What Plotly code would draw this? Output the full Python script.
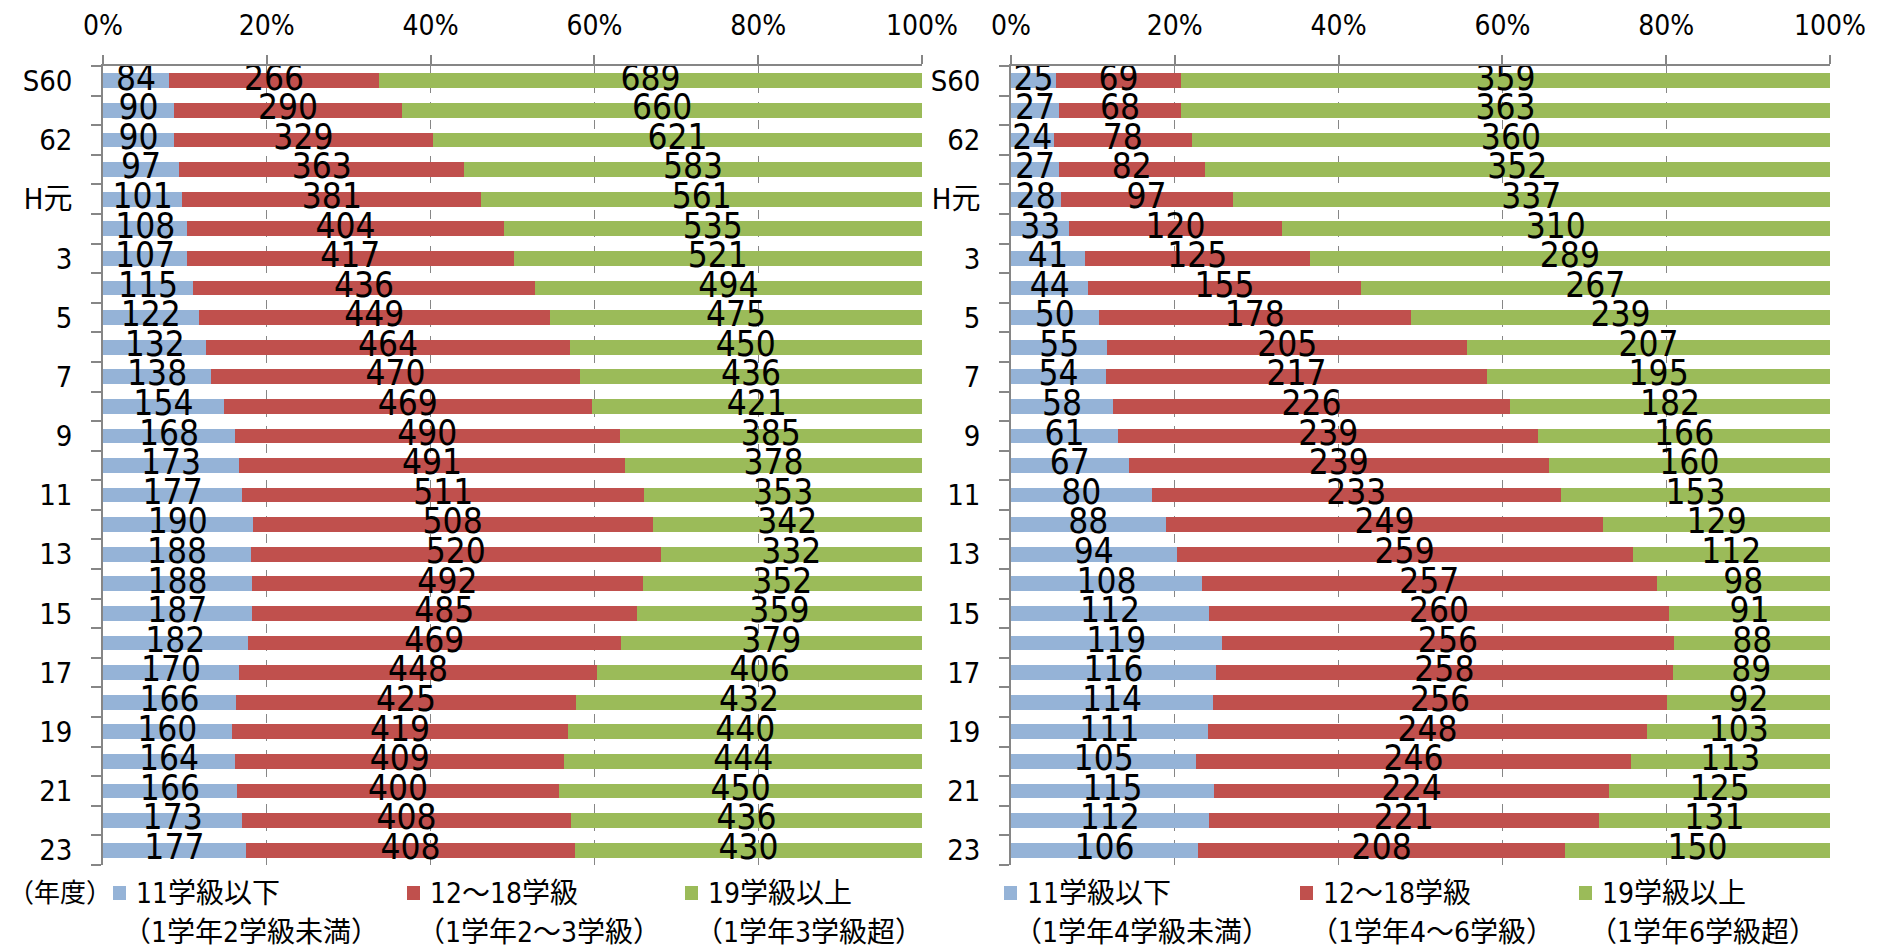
import plotly.graph_objects as go

# Page body has an 8px default margin, so the figure is sized/offset to match the window.
PAGE_OFF = 8
W, H = 1885 - PAGE_OFF, 949 - PAGE_OFF

years = ["S60", "S61", "S62", "S63", "H元", "H2", "H3", "H4", "H5", "H6", "H7", "H8", "H9",
         "H10", "H11", "H12", "H13", "H14", "H15", "H16", "H17", "H18", "H19", "H20", "H21",
         "H22", "H23"]
year_ticktext = ["S60", "", "62", "", "H元", "", "3", "", "5", "", "7", "", "9", "", "11", "",
                 "13", "", "15", "", "17", "", "19", "", "21", "", "23"]
pct_ticks = [0, 20, 40, 60, 80, 100]
pct_ticktext = ["0%", "20%", "40%", "60%", "80%", "100%"]

# Left chart
left_small = [84, 90, 90, 97, 101, 108, 107, 115, 122, 132, 138, 154, 168, 173, 177, 190, 188,
              188, 187, 182, 170, 166, 160, 164, 166, 173, 177]
left_mid = [266, 290, 329, 363, 381, 404, 417, 436, 449, 464, 470, 469, 490, 491, 511, 508, 520,
            492, 485, 469, 448, 425, 419, 409, 400, 408, 408]
left_large = [689, 660, 621, 583, 561, 535, 521, 494, 475, 450, 436, 421, 385, 378, 353, 342, 332,
              352, 359, 379, 406, 432, 440, 444, 450, 436, 430]

# Right chart
right_small = [25, 27, 24, 27, 28, 33, 41, 44, 50, 55, 54, 58, 61, 67, 80, 88, 94, 108, 112, 119,
               116, 114, 111, 105, 115, 112, 106]
right_mid = [69, 68, 78, 82, 97, 120, 125, 155, 178, 205, 217, 226, 239, 239, 233, 249, 259, 257,
             260, 256, 258, 256, 248, 246, 224, 221, 208]
right_large = [359, 363, 360, 352, 337, 310, 289, 267, 239, 207, 195, 182, 166, 160, 153, 129, 112,
               98, 91, 88, 89, 92, 103, 113, 125, 131, 150]

series_names = ["11学級以下", "12～18学級", "19学級以上"]
left_sub = ["（1学年2学級未満）", "（1学年2～3学級）", "（1学年3学級超）"]
right_sub = ["（1学年4学級未満）", "（1学年4～6学級）", "（1学年6学級超）"]
colors = ["#95B3D7", "#C0504D", "#9BBB59"]

NUM_FONT = "DejaVu Sans Condensed, Noto Sans CJK JP, sans-serif"


def px_x(p):
    return (p - PAGE_OFF) / W


def px_y(p):
    return 1 - (p - PAGE_OFF) / H


fig = go.Figure()


def add_panel(series_list, subs, xa, ya):
    totals = [sum(v) for v in zip(*series_list)]
    cum = [0.0] * len(totals)
    for series, name, sub, color in zip(series_list, series_names, subs, colors):
        fig.add_trace(go.Bar(
            y=years, x=series, orientation="h", name=name + sub,
            marker=dict(color=color, line=dict(width=0)),
            xaxis=xa, yaxis=ya, hoverinfo="skip", showlegend=False,
        ))
        # label positions: centre of each normalised segment
        mids = [(c + v / 2) / t * 100 for c, v, t in zip(cum, series, totals)]
        fig.add_trace(go.Scatter(
            y=years, x=mids, mode="text", text=[str(v) for v in series],
            textposition="middle center", showlegend=False, cliponaxis=False,
            textfont=dict(family=NUM_FONT, size=35, color="black"),
            xaxis=xa, yaxis=ya, hoverinfo="skip",
        ))
        cum = [c + v for c, v in zip(cum, series)]


add_panel([left_small, left_mid, left_large], left_sub, "x", "y")
add_panel([right_small, right_mid, right_large], right_sub, "x2", "y2")

ydom = [px_y(865), px_y(66)]

xaxis_common = dict(
    side="top", range=[0, 100], tickmode="array", tickvals=pct_ticks, ticktext=pct_ticktext,
    showgrid=True, gridcolor="#868686", griddash="dash", gridwidth=1,
    showline=True, linecolor="#868686", linewidth=1.5,
    ticks="outside", ticklen=9, tickcolor="#868686", tickwidth=1.5,
    tickfont=dict(family=NUM_FONT, size=28, color="black"),
    ticklabelstandoff=9, zeroline=False, automargin=False, fixedrange=True,
)
yaxis_common = dict(
    type="category", range=[len(years) - 0.5, -0.5], tickmode="array", tickvals=years,
    ticktext=year_ticktext,
    tickson="boundaries", ticks="outside", ticklen=10, tickcolor="#868686", tickwidth=1.5,
    showline=True, linecolor="#868686", linewidth=1.5, showgrid=False,
    tickfont=dict(family=NUM_FONT, size=29, color="black"),
    ticklabelstandoff=23, automargin=False, fixedrange=True, domain=ydom,
)

# Manual legends (square + two text lines per entry)
LEG_FONT = dict(family=NUM_FONT, size=28, color="black")
shapes = []
annotations = [dict(
    text="（年度）", x=px_x(60), y=px_y(893), xref="paper", yref="paper", xanchor="center",
    yanchor="middle", showarrow=False, font=dict(family=NUM_FONT, size=26, color="black"),
)]
legend_square_x = [[113, 407, 685], [1004, 1300, 1579]]
for sq_xs, subs in zip(legend_square_x, [left_sub, right_sub]):
    for sx, name, sub, color in zip(sq_xs, series_names, subs, colors):
        shapes.append(dict(
            type="rect", xref="paper", yref="paper",
            x0=px_x(sx), x1=px_x(sx + 13), y0=px_y(900), y1=px_y(886),
            fillcolor=color, line=dict(width=0),
        ))
        annotations.append(dict(
            text=name, x=px_x(sx + 21), y=px_y(893), xref="paper", yref="paper",
            xanchor="left", yanchor="middle", showarrow=False, font=LEG_FONT,
        ))
        annotations.append(dict(
            text=sub, x=px_x(sx + 8), y=px_y(932), xref="paper", yref="paper",
            xanchor="left", yanchor="middle", showarrow=False, font=LEG_FONT,
        ))

fig.update_layout(
    width=W, height=H, margin=dict(l=0, r=0, t=0, b=0),
    paper_bgcolor="white", plot_bgcolor="white",
    barmode="stack", barnorm="percent", bargap=0.5,
    font=dict(family=NUM_FONT, color="black"),
    xaxis=dict(domain=[px_x(103), px_x(922)], anchor="y", **xaxis_common),
    yaxis=dict(anchor="x", **yaxis_common),
    xaxis2=dict(domain=[px_x(1011), px_x(1830)], anchor="y2", **xaxis_common),
    yaxis2=dict(anchor="x2", **yaxis_common),
    shapes=shapes,
    annotations=annotations,
    showlegend=False,
)

fig.write_html("out.html")
